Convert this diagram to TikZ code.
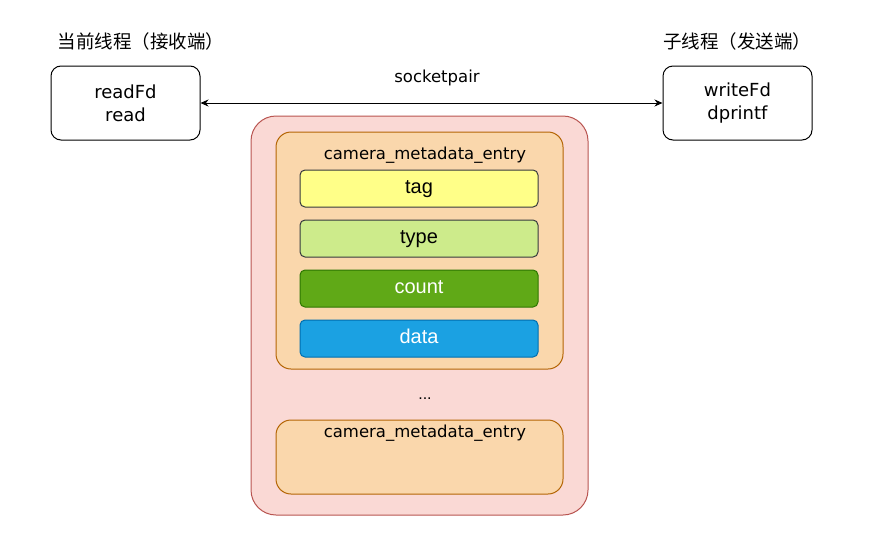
\documentclass[tikz,border=0pt]{standalone}
\usepackage{fontspec}
\setmainfont{Liberation Sans}
\newfontfamily\cjk{Noto Sans CJK SC}
\newfontfamily\handfont{DejaVu Sans}
\usetikzlibrary{arrows.meta}
\definecolor{outerfill}{HTML}{FAD9D5}
\definecolor{outerline}{HTML}{B85450}
\definecolor{entryfill}{HTML}{FAD7AC}
\definecolor{entryline}{HTML}{B46504}
\definecolor{tagfill}{HTML}{FFFF88}
\definecolor{typefill}{HTML}{CDEB8B}
\definecolor{fieldline}{HTML}{36393D}
\definecolor{countfill}{HTML}{60A917}
\definecolor{countline}{HTML}{2D7600}
\definecolor{datafill}{HTML}{1BA1E2}
\definecolor{dataline}{HTML}{006EAF}
\begin{document}
\begin{tikzpicture}[
        x=1pt, y=-1pt,
        line width=1pt,
        thread/.style={draw, rounded corners=10pt, minimum width=149pt, minimum height=74pt,
          align=center, font=\handfont\fontsize{18}{23}\selectfont, inner sep=0pt},
        caption/.style={font=\cjk\fontsize{18.5}{20}\selectfont, inner sep=0pt},
        entry/.style={draw=entryline, fill=entryfill, rounded corners=15pt,
          minimum width=287pt, inner sep=0pt},
        field/.style={draw=fieldline, rounded corners=5pt, minimum width=238pt,
          minimum height=37pt, inner sep=0pt, text height=12.4pt, text depth=2pt,
          font=\fontsize{20}{22}\selectfont},
        hand/.style={font=\handfont\fontsize{16.5}{19}\selectfont, inner sep=0pt}
    ]
      \useasboundingbox (0,0) rectangle (870,533);
      % Потоки
      \node[thread] (recv) at (125.5,103) {readFd\\read};
      \node[thread] (send) at (737.5,103) {writeFd\\dprintf};
      \node[caption] (recvcap) at (141,41) {当前线程（接收端）};
      \node[caption] (sendcap) at (737,41) {子线程（发送端）};
      \node[hand] (pair) at (437,78) {socketpair};
      \draw[{Stealth[length=8pt,width=7pt]}-{Stealth[length=8pt,width=7pt]}] (recv) -- (send);

      % Буфер
      \node[draw=outerline, fill=outerfill, rounded corners=25pt,
        minimum width=337pt, minimum height=399pt] (buffer) at (419.5,315.5) {};
      \node[entry, minimum height=237pt] (entryA) at (419.5,250.5) {};
      \node[hand] (entryAlbl) at (425,155) {camera\_metadata\_entry};
      \node[field, fill=tagfill] (tag) at (419,188.5) {tag};
      \node[field, fill=typefill] (type) at (419,238.5) {type};
      \node[field, fill=countfill, draw=countline, text=white] (count) at (419,288.5) {count};
      \node[field, fill=datafill, draw=dataline, text=white] (data) at (419,338.5) {data};
      \node[font=\fontsize{16}{18}\selectfont, inner sep=0pt] (dots) at (425,399) {...};
      \node[entry, minimum height=74pt] (entryB) at (419.5,457) {};
      \node[hand] (entryBlbl) at (425,433) {camera\_metadata\_entry};
    \end{tikzpicture}
\end{document}
